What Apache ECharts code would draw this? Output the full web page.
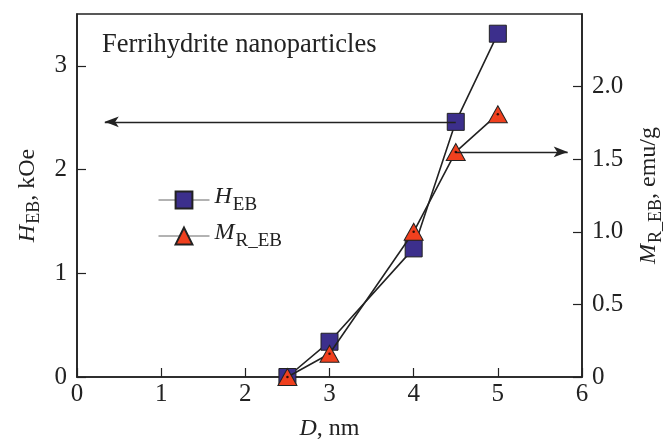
<!DOCTYPE html>
<html>
<head>
<meta charset="utf-8">
<script src="https://cdn.jsdelivr.net/npm/echarts@6/dist/echarts.min.js"></script>
<style>
  html, body { margin: 0; padding: 0; background: #fff; }
  #chart { width: 669px; height: 439px; }
</style>
</head>
<body>
<div id="chart"></div>
<script>
// particle diameter D, nm
const diameters = [2.5, 3, 4, 4.5, 5];
// exchange bias field, kOe (left axis)
const hebValues = [0, 0.34, 1.24, 2.46, 3.31];
// remanent magnetization shift, emu/g (right axis)
const mrebValues = [0, 0.16, 1.0, 1.55, 1.81];
// arrows pointing each curve to its own axis: [from, to]
const hebArrow = [[4.5, 2.46], [0.33, 2.46]];
const mrebArrow = [[4.5, 1.55], [5.83, 1.55]];

const serif = 'Liberation Serif';
const ink = '#222';

const chart = echarts.init(document.getElementById('chart'), null, { renderer: 'canvas' });

const richText = (size, subSize, drop) => ({
  i: { fontFamily: serif, fontStyle: 'italic', fontSize: size, color: ink, verticalAlign: 'top' },
  s: { fontFamily: serif, fontSize: subSize, color: ink, verticalAlign: 'top', padding: [drop, 0, 0, 1] },
  n: { fontFamily: serif, fontSize: size, color: ink, verticalAlign: 'top' }
});

const pairs = (xs, ys) => xs.map((x, i) => [x, ys[i]]);

const option = {
  animation: false,
  backgroundColor: '#fff',
  title: {
    text: 'Ferrihydrite nanoparticles',
    left: 97,
    top: 27,
    textStyle: { fontFamily: serif, fontSize: 26.5, fontWeight: 'normal', color: ink }
  },
  grid: {
    left: 77,
    right: 87,
    top: 14,
    bottom: 62,
    outerBoundsMode: 'none',
    show: true,
    borderColor: ink,
    borderWidth: 1.6
  },
  legend: {
    data: ['heb', 'mreb'],
    orient: 'vertical',
    left: 153,
    top: 180,
    itemWidth: 51,
    itemHeight: 21,
    itemGap: 6,
    lineStyle: { color: '#666', width: 1 },
    formatter: (name) => name === 'heb' ? '{i|H}{s|EB}' : '{i|M}{s|R_EB}',
    textStyle: { padding: [0, 0, 0, 0], rich: richText(24, 19, 11) }
  },
  xAxis: {
    type: 'value',
    min: 0,
    max: 6,
    interval: 1,
    name: '{i|D}{n|, nm}',
    nameLocation: 'middle',
    nameGap: 40,
    nameTextStyle: { rich: richText(24, 18, 10) },
    axisLine: { lineStyle: { color: ink, width: 1.6 } },
    axisTick: { inside: true, length: 9, lineStyle: { color: ink, width: 1.2 } },
    axisLabel: { margin: 5, fontFamily: serif, fontSize: 25, color: ink },
    splitLine: { show: false }
  },
  yAxis: [
    {
      type: 'value',
      min: 0,
      max: 3.5,
      interval: 1,
      name: '{i|H}{s|EB}{n|, kOe}',
      nameLocation: 'middle',
      nameRotate: 90,
      nameGap: 30,
      nameTextStyle: { rich: richText(24, 18, 10) },
      axisLine: { show: true, lineStyle: { color: ink, width: 1.6 } },
      axisTick: { inside: true, length: 9, lineStyle: { color: ink, width: 1.2 } },
      axisLabel: { margin: 10, fontFamily: serif, fontSize: 25, color: ink, showMaxLabel: false },
      splitLine: { show: false }
    },
    {
      type: 'value',
      position: 'right',
      min: 0,
      max: 2.5,
      interval: 0.5,
      name: '{i|M}{s|R_EB}{n|, emu/g}',
      nameLocation: 'middle',
      nameRotate: 90,
      nameGap: 55,
      nameTextStyle: { rich: richText(24, 18, 10) },
      axisLine: { show: true, lineStyle: { color: ink, width: 1.6 } },
      axisTick: { inside: true, length: 9, lineStyle: { color: ink, width: 1.2 } },
      axisLabel: {
        margin: 10, fontFamily: serif, fontSize: 25, color: ink, showMaxLabel: false,
        formatter: (v) => v === 0 ? '0' : v.toFixed(1)
      },
      splitLine: { show: false }
    }
  ],
  series: [
    {
      name: 'heb',
      type: 'line',
      yAxisIndex: 0,
      data: pairs(diameters, hebValues),
      symbol: 'rect',
      symbolSize: 17,
      z: 3,
      lineStyle: { color: ink, width: 1.6 },
      itemStyle: { color: '#3c2f8c', borderColor: ink, borderWidth: 1 },
      markLine: {
        silent: true,
        symbol: ['none', 'arrow'],
        symbolSize: [8, 14],
        label: { show: false },
        lineStyle: { color: ink, width: 1.4, type: 'solid' },
        data: [[{ coord: hebArrow[0] }, { coord: hebArrow[1] }]]
      }
    },
    {
      name: 'mreb',
      type: 'line',
      yAxisIndex: 1,
      data: pairs(diameters, mrebValues),
      symbol: 'triangle',
      symbolSize: [19, 17],
      z: 4,
      lineStyle: { color: ink, width: 1.6 },
      itemStyle: { color: '#f0401e', borderColor: ink, borderWidth: 1 },
      markLine: {
        silent: true,
        symbol: ['none', 'arrow'],
        symbolSize: [8, 14],
        label: { show: false },
        lineStyle: { color: ink, width: 1.4, type: 'solid' },
        data: [[{ coord: mrebArrow[0] }, { coord: mrebArrow[1] }]]
      }
    },
    {
      // the small dot inside each triangle
      name: 'mrebDot',
      type: 'scatter',
      yAxisIndex: 1,
      data: pairs(diameters, mrebValues),
      symbol: 'circle',
      symbolSize: 2.5,
      z: 5,
      silent: true,
      itemStyle: { color: '#000' }
    }
  ]
};

chart.setOption(option);
</script>
</body>
</html>
